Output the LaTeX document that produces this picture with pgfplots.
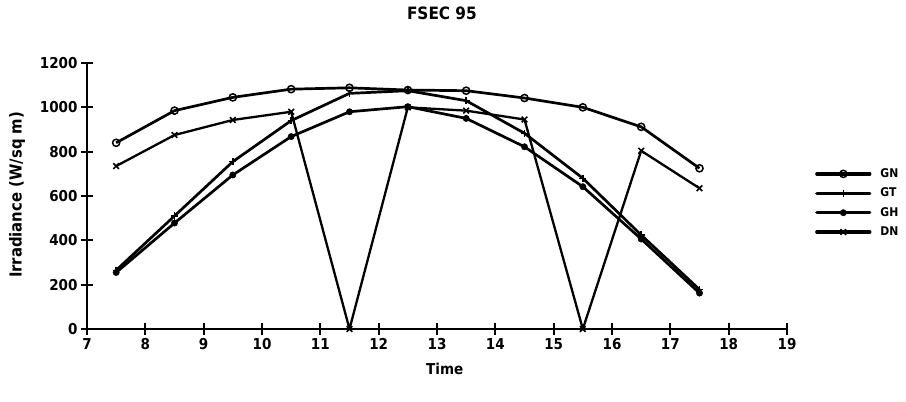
\documentclass[border=0pt]{standalone}
\usepackage{fontspec}
\setmainfont{DejaVu Sans Condensed}
\usepackage{pgfplots}
\pgfplotsset{compat=1.18}
\pgfplotstableread{
t    GN    GT    GH    DN
7.5  840   265   255   735
8.5  985   510   478   875
9.5  1045  755   695   943
10.5 1082  940   868   980
11.5 1088  1063  980   0
12.5 1078  1075  1003  1000
13.5 1075  1030  950   985
14.5 1042  883   822   945
15.5 1000  680   642   0
16.5 912   424   406   804
17.5 725   178   162   635
}\irr
\begin{document}
\begin{tikzpicture}[x=1pt,y=1pt]
\useasboundingbox (0,0) rectangle (906,402);
\begin{axis}[
  at={(87pt,73pt)}, anchor=south west,
  width=700pt, height=266pt, scale only axis,
  xmin=7, xmax=19, ymin=0, ymax=1200,
  clip=false,
  axis lines=left, axis line style={line width=2.8pt, -},
  xtick={7,...,19}, ytick={0,200,...,1200},
  tick align=center, major tick length=12pt,
  tick style={line width=2.2pt, black},
  ticklabel style={font=\bfseries\fontsize{15}{15}\selectfont},
  /pgf/number format/assume math mode=true,
  /pgf/number format/1000 sep={},
  title={FSEC 95},
  title style={at={(0.507,1)}, anchor=center, yshift=44pt, font=\bfseries\fontsize{17}{17}\selectfont},
  xlabel={Time},
  xlabel style={at={(0.511,0)}, anchor=center, yshift=-40pt, font=\bfseries\fontsize{15}{15}\selectfont},
  ylabel={Irradiance (W/sq m)},
  ylabel style={at={(-0.1,0.504)}, anchor=center, font=\bfseries\fontsize{16.5}{16.5}\selectfont},
  legend style={at={(1.04,0.611)}, anchor=north west, draw=none, fill=none,
    font=\bfseries\fontsize{12}{12}\selectfont, row sep=5pt, inner sep=0pt,
    nodes={inner sep=2pt}, /tikz/every odd column/.append style={column sep=7pt}},
  legend cell align=left,
]
% lines
\addplot[black, line width=2.7pt, line join=round, mark=none, forget plot] table[x=t, y=GN] {\irr};
\addplot[black, line width=2.7pt, line join=round, mark=none, forget plot] table[x=t, y=GT] {\irr};
\addplot[black, line width=2.7pt, line join=round, mark=none, forget plot] table[x=t, y=GH] {\irr};
\addplot[black, line width=2.3pt, line join=round, mark=none, forget plot] table[x=t, y=DN] {\irr};
% marks
\addplot[black, fill=white, line width=1.5pt, only marks, mark=o, mark size=3.6pt, forget plot] table[x=t, y=GN] {\irr};
\addplot[black, line width=1.5pt, only marks, mark=+, mark size=3.6pt, forget plot] table[x=t, y=GT] {\irr};
\addplot[black, fill=black, only marks, mark=*, mark size=3.2pt, forget plot] table[x=t, y=GH] {\irr};
\addplot[black, line width=1.6pt, only marks, mark=x, mark size=4pt, forget plot] table[x=t, y=DN] {\irr};
% legend
\addlegendimage{legend image code/.code={
  \draw[black,line width=3.3pt,line cap=round] (0pt,0pt)--(53pt,0pt);
  \draw[black,fill=white,line width=1.5pt] plot[only marks, mark=o, mark size=3.6pt] coordinates {(26.5pt,0pt)};}}
\addlegendentry{GN}
\addlegendimage{legend image code/.code={
  \draw[black,line width=3.3pt,line cap=round] (0pt,0pt)--(53pt,0pt);
  \draw[black,line width=1.5pt] plot[only marks, mark=+, mark size=3.6pt] coordinates {(26.5pt,0pt)};}}
\addlegendentry{GT}
\addlegendimage{legend image code/.code={
  \draw[black,line width=3.3pt,line cap=round] (0pt,0pt)--(53pt,0pt);
  \draw[black,fill=black] plot[only marks, mark=*, mark size=3.2pt] coordinates {(26.5pt,0pt)};}}
\addlegendentry{GH}
\addlegendimage{legend image code/.code={
  \draw[black,line width=3.3pt,line cap=round] (0pt,0pt)--(53pt,0pt);
  \draw[black,line width=1.6pt] plot[only marks, mark=x, mark size=4pt] coordinates {(26.5pt,0pt)};}}
\addlegendentry{DN}
\end{axis}
\end{tikzpicture}
\end{document}
